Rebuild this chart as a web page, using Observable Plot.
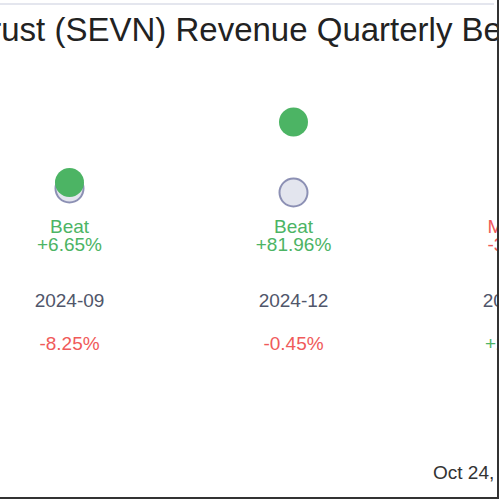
<!DOCTYPE html>
<html>
<head>
<meta charset="utf-8">
<script src="https://cdn.jsdelivr.net/npm/d3@7"></script>
<script src="https://cdn.jsdelivr.net/npm/@observablehq/plot@0.6"></script>
<style>
  html, body { margin: 0; padding: 0; background: #fff; overflow: hidden; }
  #wrap { position: relative; width: 497px; height: 497px; overflow: hidden;
          border-right: 2px solid #333; border-bottom: 2px solid #333; background: #fff;
          font-family: "Liberation Sans", Arial, sans-serif; }
  #topline { position: absolute; left: 0; top: 3px; width: 494px; height: 2px; background: #e4e6ee; }
  #title { position: absolute; top: 10px; left: -305px; white-space: nowrap; font-size: 33px; color: #222; line-height: 40px; }
  #footer { position: absolute; top: 461px; left: 433px; white-space: nowrap; font-size: 19px; color: #333; line-height: 24px; }
  #chart { position: absolute; left: 0; top: 0; }
  #chart svg { background: transparent; max-width: none !important; }
</style>
</head>
<body>
<div id="wrap">
  <div id="chart"></div>
  <div id="topline"></div>
  <div id="title">Seven Hills Realty Trust (SEVN) Revenue Quarterly Beat/Miss</div>
  <div id="footer">Oct 24, 2025</div>
</div>
<script>
const quarters = ["2024-09", "2024-12", "2025-03"];
const estimates = [9.00, 8.60, 9.10];      // revenue estimate, $M
const actuals = [9.60, 15.65, 8.75];       // reported revenue, $M
const status = ["Beat", "Beat", "Missed"];
const surpriseLabels = ["+6.65%", "+81.96%", "-3.85%"];
const yoyLabels = ["-8.25%", "-0.45%", "+2.35%"];

const GREEN = "#4cb464";
const RED = "#f05a5a";

const data = quarters.map((q, i) => ({
  q, est: estimates[i], act: actuals[i], status: status[i],
  surprise: surpriseLabels[i], yoy: yoyLabels[i]
}));

const plot = Plot.plot({
  width: 700,
  height: 497,
  margin: 0,
  style: { fontFamily: '"Liberation Sans", Arial, sans-serif', background: "transparent", maxWidth: "none" },
  x: { type: "point", domain: quarters, range: [69, 517], padding: 0, axis: null },
  y: { domain: [0, 20], range: [278, 78], axis: null },
  marks: [
    Plot.dot(data, { x: "q", y: "est", r: 14, fill: "#e3e5ee", stroke: "#8c90b4", strokeWidth: 2 }),
    Plot.dot(data, { x: "q", y: "act", r: 14.5, fill: GREEN, stroke: "none" }),
    Plot.text(data, {
      x: "q", frameAnchor: "top", dy: 218.5, lineHeight: 1,
      text: d => `${d.status}\n${d.surprise}`, fontSize: 19,
      fill: d => d.status === "Beat" ? GREEN : RED
    }),
    Plot.text(data, { x: "q", frameAnchor: "top", dy: 293, text: "q", fontSize: 19, fill: "#50566a" }),
    Plot.text(data, {
      x: "q", frameAnchor: "top", dy: 336, text: "yoy", fontSize: 19,
      fill: d => d.yoy.startsWith("-") ? RED : GREEN
    })
  ]
});
document.getElementById("chart").appendChild(plot);
</script>
</body>
</html>
